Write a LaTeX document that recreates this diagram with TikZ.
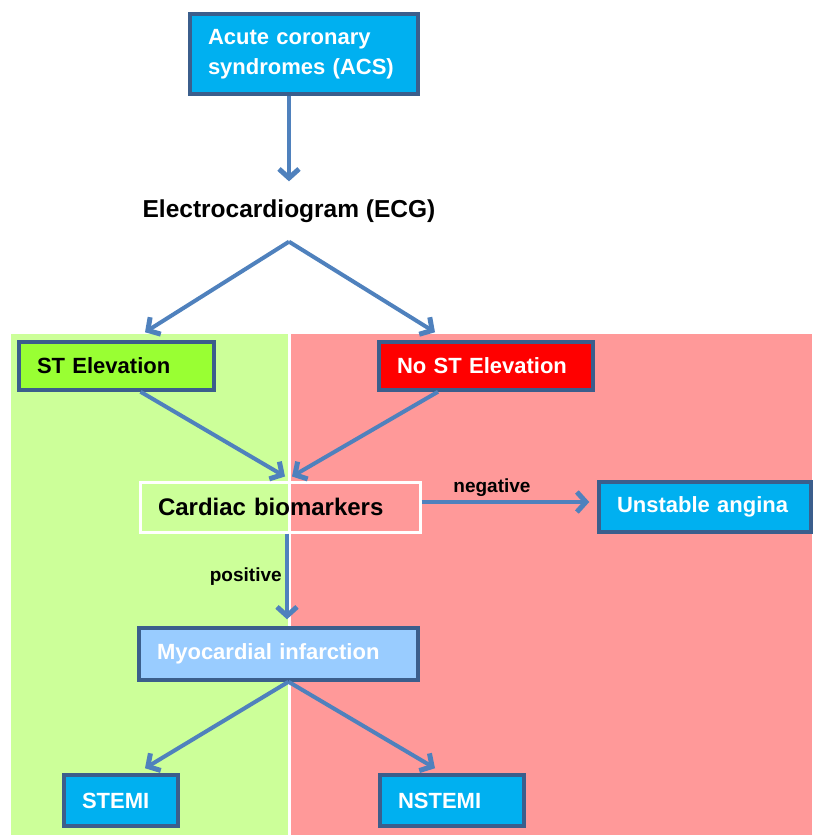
\documentclass[tikz,border=0pt]{standalone}
\usepackage{fontspec}
\setmainfont{Liberation Sans}
\usetikzlibrary{arrows.meta,positioning}
\definecolor{acsEdge}{HTML}{3B5E8C}
\definecolor{acsArrow}{HTML}{4F81BD}
\definecolor{acsCyan}{HTML}{00B0F0}
\definecolor{acsLime}{HTML}{99FF33}
\definecolor{acsRed}{HTML}{FF0000}
\definecolor{acsSky}{HTML}{99CCFF}
\definecolor{zoneGreen}{HTML}{CCFF99}
\definecolor{zoneRed}{HTML}{FF9999}
\tikzset{
  dxbox/.style={draw=acsEdge,line width=3.5pt,align=left,inner xsep=18pt,
    inner ysep=3pt,text=white,font=\bfseries\fontsize{22}{30}\selectfont},
  flow/.style={-{Straight Barb[length=9pt,width=20pt,line width=5pt]},line width=4pt,acsArrow},
  tag/.style={text=black,font=\bfseries\fontsize{19}{22}\selectfont}
}

\begin{document}
\begin{tikzpicture}[x=1pt,y=-1pt]
  \useasboundingbox (0,0) rectangle (812,835);
  % two outcome zones
  \fill[zoneGreen] (11,334) rectangle (288,835);
  \fill[zoneRed] (291,334) rectangle (812,835);

  \node[dxbox,fill=acsCyan,text width=192pt,minimum height=80pt] (acs) at (304,54)
       {Acute coronary\\syndromes (ACS)};
  \node[font=\bfseries\fontsize{24.5}{28}\selectfont,inner sep=0pt] (ecg) at (289,211)
       {Electrocardiogram (ECG)};
  \node[dxbox,fill=acsLime,text=black,text width=159pt,minimum height=48pt] (st) at (116.5,366)
       {ST Elevation};
  \node[dxbox,fill=acsRed,text width=178pt,minimum height=48pt] (nost) at (486,366)
       {No ST Elevation};
  \node[dxbox,draw=white,line width=3pt,text=black,text width=244pt,minimum height=50pt,
       font=\bfseries\fontsize{24}{29}\selectfont] (card) at (280,507) {Cardiac biomarkers};
  \node[dxbox,fill=acsCyan,text width=176pt,minimum height=50pt] (ua) at (705,507)
       {Unstable angina};
  \node[dxbox,fill=acsSky,text width=243pt,minimum height=52pt] (mi) at (278.5,654)
       {Myocardial infarction};
  \node[dxbox,fill=acsCyan,text width=78pt,minimum height=51pt] (stemi) at (121,800.5)
       {STEMI};
  \node[dxbox,fill=acsCyan,text width=108pt,minimum height=51pt] (nstemi) at (452,800.5)
       {NSTEMI};

  \draw[flow] ([xshift=-15pt]acs.south) -- ([yshift=18pt]ecg.north);
  \draw[flow] ([yshift=-19pt]ecg.south) -- ([xshift=28.5pt,yshift=8pt]st.north);
  \draw[flow] ([yshift=-19pt]ecg.south) -- ([xshift=-51pt,yshift=8pt]nost.north);
  \draw[flow] ([xshift=24pt]st.south) -- ([xshift=5pt,yshift=4pt]card.north);
  \draw[flow] ([xshift=-48pt]nost.south) -- ([xshift=12pt,yshift=4pt]card.north);
  \draw[flow] ([yshift=5pt]card.east) -- node[tag,above,pos=0.42] {negative}
       ([xshift=-8pt,yshift=5pt]ua.west);
  \draw[flow] ([xshift=7pt]card.south) -- node[tag,left,pos=0.5] {positive}
       ([xshift=8.5pt,yshift=7pt]mi.north);
  \draw[flow] ([xshift=10pt]mi.south) -- ([xshift=24pt,yshift=5pt]stemi.north);
  \draw[flow] ([xshift=10pt]mi.south) -- ([xshift=-17pt,yshift=5pt]nstemi.north);
\end{tikzpicture}
\end{document}
